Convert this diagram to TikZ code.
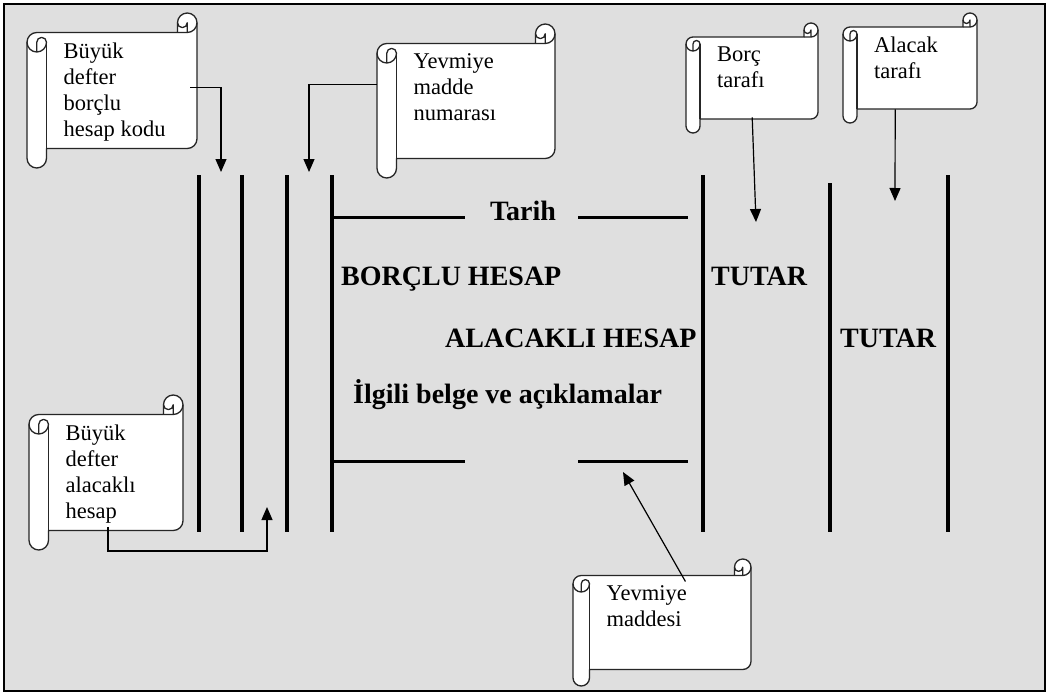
\documentclass[tikz,border=0pt]{standalone}
\usepackage{fontspec}
\setmainfont{Liberation Serif}
\usetikzlibrary{arrows.meta, calc}
\definecolor{paper}{HTML}{DFDFDF}

% scroll note: name, left, top, right, bottom, roll size, text
\newcommand{\scrollnote}[7]{%
  \pgfmathsetmacro\scrL{#2}\pgfmathsetmacro\scrT{#3}%
  \pgfmathsetmacro\scrR{#4}\pgfmathsetmacro\scrB{#5}%
  \pgfmathsetmacro\scrC{#6}%
  \draw[scrollline, fill=white] (\scrL,\scrT+1.5*\scrC)
      arc[start angle=180, delta angle=90, radius=\scrC/2]
      -- (\scrR-\scrC,\scrT+\scrC) -- (\scrR-\scrC,\scrT+0.5*\scrC)
      arc[start angle=180, delta angle=180, radius=\scrC/2]
      -- (\scrR,\scrB-1.5*\scrC)
      arc[start angle=0, delta angle=90, radius=\scrC/2]
      -- (\scrL+\scrC,\scrB-\scrC) -- (\scrL+\scrC,\scrB-0.5*\scrC)
      arc[start angle=0, delta angle=180, radius=\scrC/2] -- cycle;
  \draw[scrollline] (\scrR-\scrC,\scrT+\scrC) -- (\scrR-0.5*\scrC,\scrT+\scrC)
      arc[start angle=90, delta angle=-90, radius=\scrC/2];
  \draw[scrollline] (\scrR-0.5*\scrC,\scrT+\scrC) -- (\scrR-0.5*\scrC,\scrT+0.5*\scrC)
      arc[start angle=0, delta angle=180, radius=\scrC/4];
  \draw[scrollline] (\scrL+0.5*\scrC,\scrT+2*\scrC) -- (\scrL+0.5*\scrC,\scrT+1.5*\scrC)
      arc[start angle=180, delta angle=180, radius=\scrC/4]
      arc[start angle=0, delta angle=180, radius=\scrC/2];
  \draw[scrollline] (\scrL+\scrC,\scrT+1.5*\scrC) -- (\scrL+\scrC,\scrB-\scrC);
  \pgfmathsetmacro\scrW{\scrR-\scrL-\scrC-34}%
  \pgfmathsetmacro\scrH{\scrB-\scrT-2*\scrC-20}%
  \node[note, anchor=north west] (#1) at (\scrL+\scrC,\scrT+\scrC)
      {\parbox[b][\scrH pt][t]{\scrW pt}{\raggedright #7}};
}

\begin{document}
\begin{tikzpicture}[
    x=1pt, y=-1pt,
    rule/.style={line width=4pt},
    dash line/.style={line width=3pt},
    head/.style={font=\bfseries\fontsize{28}{32}\selectfont, inner sep=0pt},
    scrollline/.style={line width=1.3pt, draw=black!85, line join=round},
    note/.style={inner xsep=17pt, inner ysep=10pt, font=\fontsize{22.5}{26}\selectfont},
    arrow/.style={-{Triangle[length=13pt,width=11pt]}, line width=1.2pt},
]
    \useasboundingbox (0,0) rectangle (1048,693);
    \draw[line width=2pt, fill=paper] (4,4) rectangle (1045,691);

    % Journal columns
    \foreach \x in {199,242,287,332,703,948}
        \draw[rule] (\x,175) -- (\x,532);
    \draw[rule] (830,183) -- (830,532);
    \draw[dash line] (332,217) -- (465,217);
    \draw[dash line] (578,217) -- (688,217);
    \draw[dash line] (332,461) -- (465,461);
    \draw[dash line] (578,461) -- (688,461);

    % Column headings
    \node[head, anchor=base] (tarih) at (523,220) {Tarih};
    \node[head, anchor=base west] (borclu) at (341,285) {BORÇLU HESAP};
    \node[head, anchor=base west] (tutarb) at (711,285) {TUTAR};
    \node[head, anchor=base west] (alacakli) at (445,347) {ALACAKLI HESAP};
    \node[head, anchor=base west] (tutara) at (840,347) {TUTAR};
    \node[head, anchor=base west] (belge) at (353,403) {İlgili belge ve açıklamalar};

    % Notes
    \scrollnote{kodb}{27}{13}{197}{168}{19.5}{Büyük\\defter\\borçlu\\hesap kodu}
    \scrollnote{numara}{377}{24}{555}{178}{19.5}{Yevmiye\\madde\\numarası}
    \scrollnote{borc}{686}{23}{818}{133}{14}{Borç\\tarafı}
    \scrollnote{alacak}{843}{13}{977}{123}{14}{Alacak\\tarafı}
    \scrollnote{koda}{29}{395}{183}{550}{19.5}{Büyük\\defter\\alacaklı\\hesap}
    \scrollnote{madde}{573}{559}{751}{686}{16.5}{Yevmiye\\maddesi}

    % Arrow tips
    \coordinate (to-kodb) at (221,172);
    \coordinate (to-numara) at (309,172);
    \coordinate (to-borc) at (756,222);
    \coordinate (to-alacak) at (895,201);
    \coordinate (to-koda) at (267,507);
    \coordinate (to-madde) at (623,472);

    % Arrows
    \draw[arrow] ([xshift=-7pt,yshift=3.5pt]kodb.east) -| (to-kodb);
    \draw[arrow] ([xshift=-19.5pt,yshift=17pt]numara.west) -| (to-numara);
    \draw[arrow] ([xshift=-7pt,yshift=2pt]borc.south) -- (to-borc);
    \draw[arrow] ([xshift=-22pt]alacak.south) -- (to-alacak);
    \draw[arrow] ([xshift=-8pt,yshift=4pt]koda.south) -- ++(0,24) -| (to-koda);
    \draw[arrow] ([xshift=15pt,yshift=-6pt]madde.north) -- (to-madde);
\end{tikzpicture}
\end{document}
